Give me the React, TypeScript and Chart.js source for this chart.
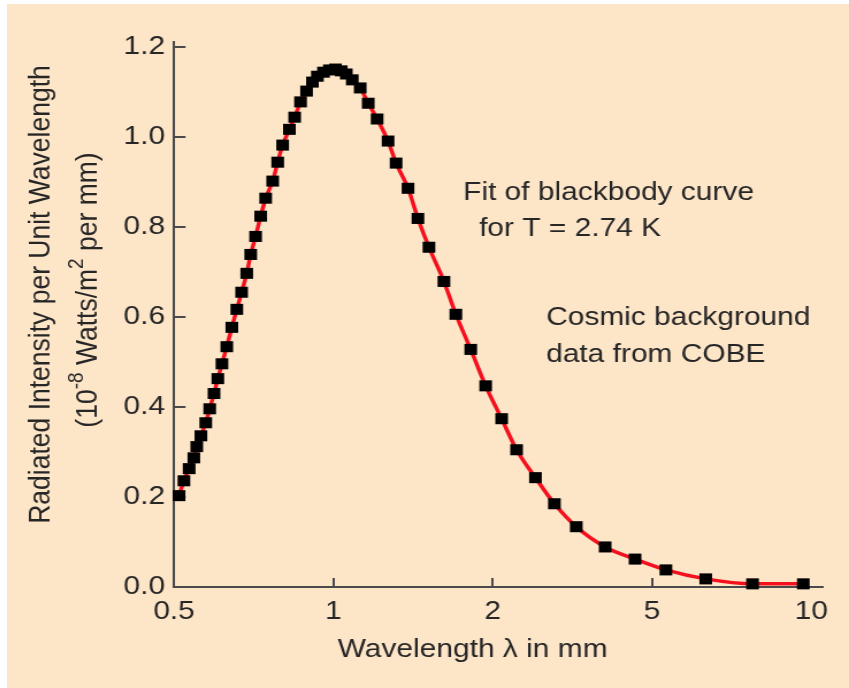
import React, { useEffect, useRef } from 'react';
import { Chart, registerables, LinearScale } from 'chart.js';

Chart.register(...registerables);

// ---------- data ----------
const WAVELENGTH_MM = [
  0.511, 0.522, 0.534, 0.545, 0.552, 0.562, 0.574, 0.584, 0.595, 0.605,
  0.616, 0.629, 0.643, 0.657, 0.671, 0.686, 0.698, 0.713, 0.729, 0.745,
  0.768, 0.785, 0.802, 0.826, 0.845, 0.867, 0.890, 0.913, 0.933, 0.958,
  0.983, 1.009, 1.035, 1.058, 1.086, 1.124, 1.164, 1.210, 1.269, 1.314,
  1.384, 1.445, 1.516, 1.618, 1.704, 1.818, 1.940, 2.106, 2.295, 2.558,
  2.853, 3.236, 3.820, 4.536, 5.313, 6.318, 7.745, 9.659,
];
const INTENSITY = [
  0.203, 0.236, 0.263, 0.287, 0.312, 0.336, 0.365, 0.396, 0.430, 0.463,
  0.496, 0.534, 0.577, 0.617, 0.655, 0.697, 0.739, 0.779, 0.824, 0.864,
  0.902, 0.944, 0.982, 1.017, 1.044, 1.078, 1.102, 1.122, 1.135, 1.144,
  1.149, 1.151, 1.147, 1.140, 1.127, 1.109, 1.075, 1.040, 0.991, 0.942,
  0.886, 0.819, 0.755, 0.679, 0.606, 0.528, 0.447, 0.374, 0.305, 0.243,
  0.185, 0.134, 0.089, 0.062, 0.038, 0.018, 0.007, 0.007,
];
const X_TICKS = [0.5, 1, 2, 5, 10];
const X_TICK_LABELS = ['0.5', '1', '2', '5', '10'];
const X_TICK_MARKS = [1, 2, 5];
const Y_TICKS = [0, 0.2, 0.4, 0.6, 0.8, 1.0, 1.2];
const Y_TICK_LABELS = ['0.0', '0.2', '0.4', '0.6', '0.8', '1.0', '1.2'];
const X_MIN = 0.5;
const X_MAX = 10.49;
const Y_MIN = 0;
const Y_MAX = 1.2111;

const X_TITLE = 'Wavelength \u03bb in mm';
const Y_TITLE_1 = 'Radiated Intensity per Unit Wavelength';
const Y_TITLE_2 = [
  { t: '(10', sup: false },
  { t: '-8', sup: true },
  { t: ' Watts/m', sup: false },
  { t: '2', sup: true },
  { t: ' per mm)', sup: false },
];
const NOTES = [
  { text: 'Fit of blackbody curve', x: 396.5, y: 196 },
  { text: 'for T = 2.74 K', x: 410.4, y: 232 },
  { text: 'Cosmic background', x: 468.7, y: 321 },
  { text: 'data from COBE', x: 468.7, y: 358 },
];

// ---------- styles ----------
const BG = '#fde5c8';
const TEXT_COLOR = '#262626';
const AXIS_COLOR = '#4a4a4a';
const CURVE_COLOR = '#f5101e';
const FONT = '"Liberation Sans", Arial, Helvetica, sans-serif';
const CANVAS_W = 732;
const CANVAS_H = 684;
const STRETCH = 842 / 732;

// Axis whose labelled ticks (0.5, 1, 2, 5, 10) are equally spaced,
// logarithmic between neighbouring ticks.
class SegmentedLogScale extends LinearScale {
  segPos(v: number): number {
    const b = X_TICKS;
    let i = 0;
    while (i < b.length - 2 && v > b[i + 1]) i++;
    return i + Math.log(v / b[i]) / Math.log(b[i + 1] / b[i]);
  }
  getPixelForValue(value: number): number {
    if (value === null || value === undefined || !isFinite(value) || value <= 0) return NaN;
    const p0 = this.segPos(this.min);
    const p1 = this.segPos(this.max);
    return this.getPixelForDecimal((this.segPos(value) - p0) / (p1 - p0));
  }
  getValueForPixel(pixel: number): number {
    const b = X_TICKS;
    const p0 = this.segPos(this.min);
    const p1 = this.segPos(this.max);
    const p = p0 + this.getDecimalForPixel(pixel) * (p1 - p0);
    const i = Math.min(Math.max(Math.floor(p), 0), b.length - 2);
    return b[i] * Math.pow(b[i + 1] / b[i], p - i);
  }
}
(SegmentedLogScale as any).id = 'segmentedLog';
(SegmentedLogScale as any).defaults = {};
Chart.register(SegmentedLogScale as any);

const textPlugin = {
  id: 'chartTexts',
  afterDraw(chart: any) {
    const ctx = chart.ctx as CanvasRenderingContext2D;
    ctx.save();
    ctx.fillStyle = TEXT_COLOR;
    ctx.textBaseline = 'alphabetic';

    ctx.font = `26px ${FONT}`;
    ctx.textAlign = 'left';
    for (const n of NOTES) ctx.fillText(n.text, n.x, n.y);

    ctx.textAlign = 'center';
    ctx.fillText(X_TITLE, 404.8, 653);

    // y title, line 1
    ctx.save();
    ctx.translate(37.4, 290.5);
    ctx.rotate(-Math.PI / 2);
    ctx.font = `26.5px ${FONT}`;
    ctx.textAlign = 'center';
    ctx.fillText(Y_TITLE_1, 0, 0);
    ctx.restore();

    // y title, line 2 with superscripts
    ctx.save();
    ctx.translate(78.3, 286);
    ctx.rotate(-Math.PI / 2);
    ctx.textAlign = 'left';
    const mainFont = `26.5px ${FONT}`;
    const supFont = `19px ${FONT}`;
    let total = 0;
    for (const p of Y_TITLE_2) {
      ctx.font = p.sup ? supFont : mainFont;
      total += ctx.measureText(p.t).width;
    }
    let x = -total / 2;
    for (const p of Y_TITLE_2) {
      ctx.font = p.sup ? supFont : mainFont;
      ctx.fillText(p.t, x, p.sup ? -12 : 0);
      x += ctx.measureText(p.t).width;
    }
    ctx.restore();

    ctx.restore();
  },
};

export default function App() {
  const ref = useRef<HTMLCanvasElement>(null);

  useEffect(() => {
    if (!ref.current) return;
    const points = WAVELENGTH_MM.map((w, i) => ({ x: w, y: INTENSITY[i] }));
    const chart = new Chart(ref.current, {
      type: 'line',
      data: {
        datasets: [
          {
            label: 'Cosmic background data from COBE',
            data: points,
            showLine: false,
            pointStyle: 'rect',
            pointRadius: 7.8,
            pointBackgroundColor: '#000000',
            pointBorderColor: '#000000',
            pointBorderWidth: 0,
            clip: false,
          },
          {
            label: 'Fit of blackbody curve for T = 2.74 K',
            data: points,
            borderColor: CURVE_COLOR,
            borderWidth: 3.5,
            pointRadius: 0,
            cubicInterpolationMode: 'monotone',
            fill: false,
            clip: false,
          },
        ],
      },
      options: {
        responsive: false,
        maintainAspectRatio: false,
        devicePixelRatio: 1,
        animation: false,
        events: [],
        layout: { padding: { left: 0, right: 20.7, top: 38, bottom: 0 } },
        plugins: {
          legend: { display: false },
          tooltip: { enabled: false },
          title: { display: false },
        },
        scales: {
          x: {
            type: 'segmentedLog' as any,
            min: X_MIN,
            max: X_MAX,
            afterBuildTicks: (scale: any) => {
              scale.ticks = X_TICKS.map((v) => ({ value: v }));
            },
            afterFit: (scale: any) => {
              scale.height = 101;
            },
            ticks: {
              autoSkip: false,
              maxRotation: 0,
              minRotation: 0,
              padding: 18,
              color: TEXT_COLOR,
              font: { family: FONT, size: 26, lineHeight: 1.2 },
              callback: (_v: any, i: number) => X_TICK_LABELS[i],
            },
            grid: {
              drawOnChartArea: false,
              drawTicks: true,
              tickLength: -9,
              lineWidth: 2,
              color: (c: any) =>
                c.tick && X_TICK_MARKS.includes(c.tick.value) ? AXIS_COLOR : 'rgba(0,0,0,0)',
            },
            border: { display: true, color: AXIS_COLOR, width: 2 },
          },
          y: {
            type: 'linear',
            min: Y_MIN,
            max: Y_MAX,
            afterBuildTicks: (scale: any) => {
              scale.ticks = Y_TICKS.map((v) => ({ value: v }));
            },
            afterFit: (scale: any) => {
              scale.width = 145.2;
            },
            ticks: {
              padding: 17.8,
              color: TEXT_COLOR,
              font: { family: FONT, size: 26, lineHeight: 1.2 },
              callback: (_v: any, i: number) => Y_TICK_LABELS[i],
            },
            grid: {
              drawOnChartArea: false,
              drawTicks: true,
              tickLength: -10,
              lineWidth: 2,
              color: (c: any) => (c.tick && c.tick.value > 0 ? AXIS_COLOR : 'rgba(0,0,0,0)'),
            },
            border: { display: true, color: AXIS_COLOR, width: 2 },
          },
        },
      } as any,
      plugins: [textPlugin],
    });
    return () => chart.destroy();
  }, []);

  return (
    <div
      style={{
        position: 'absolute',
        left: 0,
        top: 0,
        width: 849,
        height: 688,
        background: '#ffffff',
        overflow: 'hidden',
      }}
    >
      <div style={{ position: 'absolute', left: 7, top: 4, width: 842, height: 684, background: BG }}>
        <div
          style={{
            width: CANVAS_W,
            height: CANVAS_H,
            transform: `scaleX(${STRETCH})`,
            transformOrigin: '0 0',
          }}
        >
          <canvas ref={ref} width={CANVAS_W} height={CANVAS_H} style={{ display: 'block' }} />
        </div>
      </div>
    </div>
  );
}
